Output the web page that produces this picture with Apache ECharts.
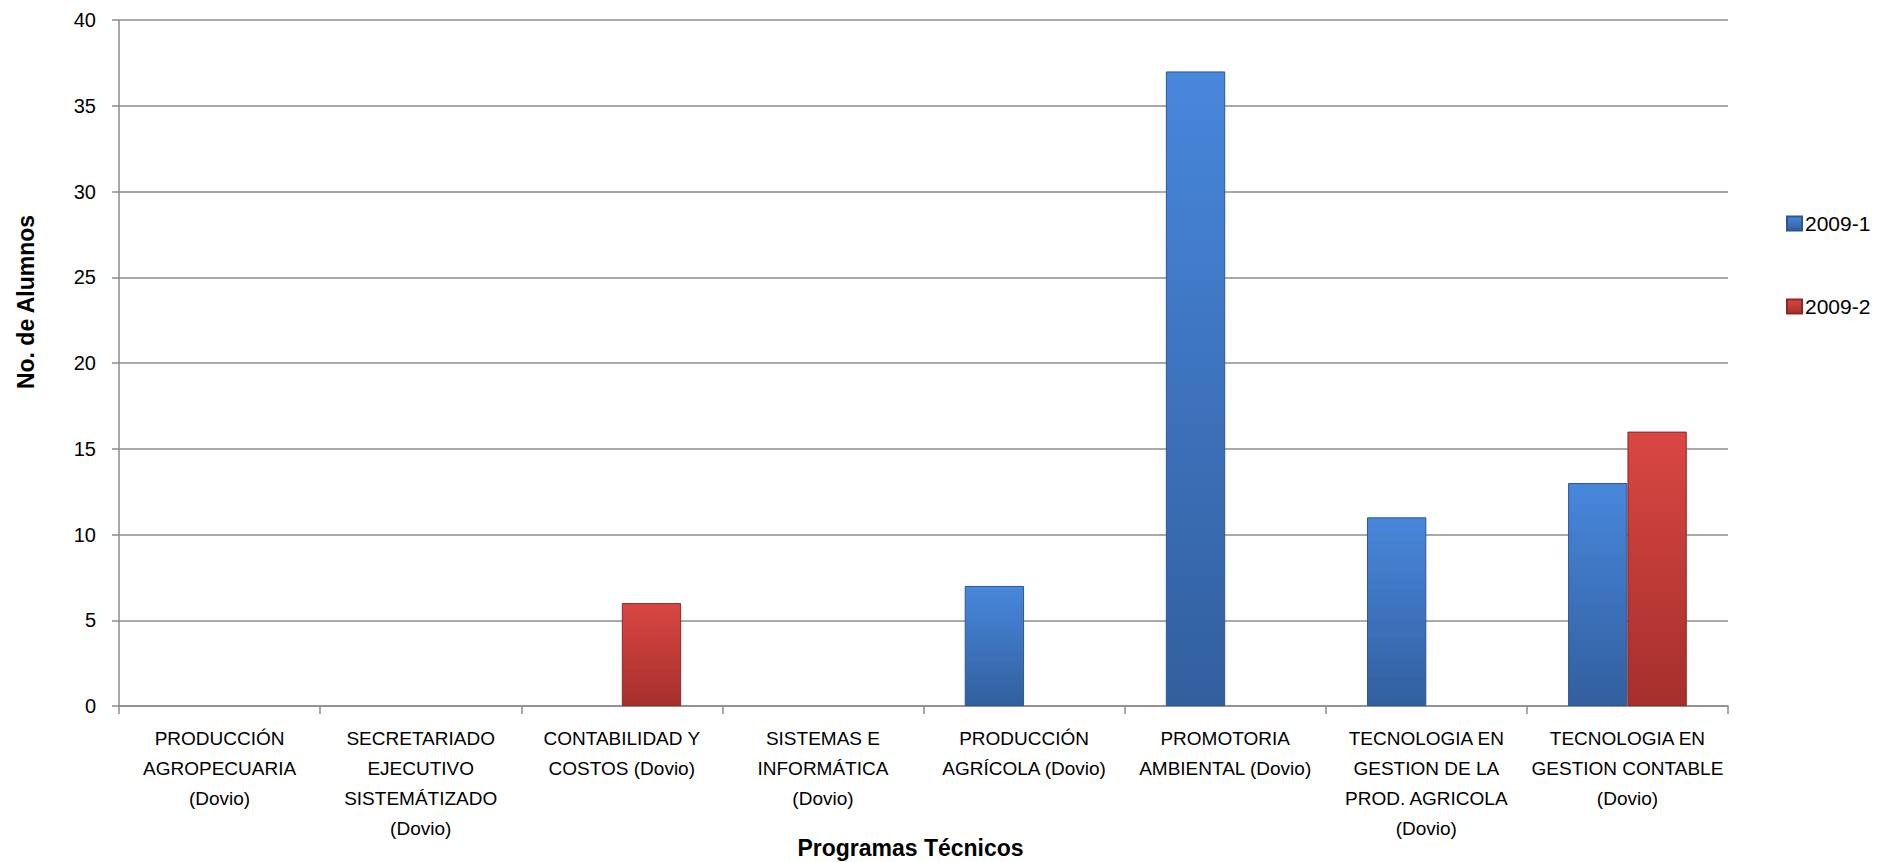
<!DOCTYPE html>
<html>
<head>
<meta charset="utf-8">
<script src="https://cdn.jsdelivr.net/npm/echarts@6/dist/echarts.min.js"></script>
<style>
  html, body { margin: 0; padding: 0; background: #ffffff; }
  #chart { width: 1888px; height: 862px; }
</style>
</head>
<body>
<div id="chart"></div>
<script>
const categories = [
  "PRODUCCIÓN\nAGROPECUARIA\n(Dovio)",
  "SECRETARIADO\nEJECUTIVO\nSISTEMÁTIZADO\n(Dovio)",
  "CONTABILIDAD Y\nCOSTOS (Dovio)",
  "SISTEMAS E\nINFORMÁTICA\n(Dovio)",
  "PRODUCCIÓN\nAGRÍCOLA (Dovio)",
  "PROMOTORIA\nAMBIENTAL (Dovio)",
  "TECNOLOGIA EN\nGESTION DE LA\nPROD. AGRICOLA\n(Dovio)",
  "TECNOLOGIA EN\nGESTION CONTABLE\n(Dovio)"
];
const seriesNames = ["2009-1", "2009-2"];
const values2009_1 = [null, null, null, null, 7, 37, 11, 13];
const values2009_2 = [null, null, 6, null, null, null, null, 16];
const yTicks = [0, 5, 10, 15, 20, 25, 30, 35, 40];
const yAxisTitle = "No. de Alumnos";
const xAxisTitle = "Programas Técnicos";

const blueFill = new echarts.graphic.LinearGradient(0, 0, 0, 1, [
  { offset: 0, color: '#4887dc' },
  { offset: 1, color: '#325f9e' }
]);
const redFill = new echarts.graphic.LinearGradient(0, 0, 0, 1, [
  { offset: 0, color: '#d94743' },
  { offset: 1, color: '#a62f2c' }
]);

const chart = echarts.init(document.getElementById('chart'), null, { renderer: 'svg' });
const font = 'Liberation Sans, Arial, sans-serif';
chart.setOption({
  animation: false,
  backgroundColor: '#ffffff',
  grid: { left: 119, right: 160, top: 20, bottom: 156, containLabel: false, outerBoundsMode: 'none' },
  legend: {
    orient: 'vertical',
    left: 1781,
    top: 208,
    itemWidth: 15,
    itemHeight: 14,
    itemGap: 62,
    icon: 'rect',
    textStyle: { fontFamily: font, fontSize: 21, color: '#000000', padding: [0, 0, 0, -2] },
    data: seriesNames
  },
  xAxis: {
    type: 'category',
    data: categories,
    name: xAxisTitle,
    nameLocation: 'middle',
    nameGap: 130,
    nameMoveOverlap: false,
    nameTextStyle: { fontFamily: font, fontSize: 23, fontWeight: 'bold', color: '#000000', lineHeight: 24, padding: [0, 26, 0, 0] },
    axisLine: { lineStyle: { color: '#8c8c8c', width: 1.5 } },
    axisTick: { show: true, length: 8, lineStyle: { color: '#8c8c8c', width: 1.5 } },
    axisLabel: { interval: 0, margin: 17, fontFamily: font, fontSize: 19, lineHeight: 30, color: '#000000' }
  },
  yAxis: {
    type: 'value',
    min: yTicks[0],
    max: yTicks[yTicks.length - 1],
    interval: yTicks[1] - yTicks[0],
    name: yAxisTitle,
    nameLocation: 'middle',
    nameRotate: 90,
    nameGap: 82,
    nameMoveOverlap: false,
    nameTextStyle: { fontFamily: font, fontSize: 23, fontWeight: 'bold', color: '#000000', lineHeight: 23, padding: [0, 0, 0, 122] },
    axisLine: { show: true, lineStyle: { color: '#8c8c8c', width: 1.5 } },
    axisTick: { show: true, inside: false, length: 7, lineStyle: { color: '#8c8c8c', width: 1.5 } },
    axisLabel: { margin: 23, fontFamily: font, fontSize: 20, color: '#000000' },
    splitLine: { show: true, lineStyle: { color: '#8c8c8c', width: 1.5 } }
  },
  series: [
    {
      name: seriesNames[0],
      type: 'bar',
      data: values2009_1,
      barGap: '0%',
      barCategoryGap: '41%',
      itemStyle: { color: blueFill, borderColor: '#2c578f', borderWidth: 1 }
    },
    {
      name: seriesNames[1],
      type: 'bar',
      data: values2009_2,
      barGap: '0%',
      barCategoryGap: '41%',
      itemStyle: { color: redFill, borderColor: '#8c2826', borderWidth: 1 }
    }
  ]
});
</script>
</body>
</html>
